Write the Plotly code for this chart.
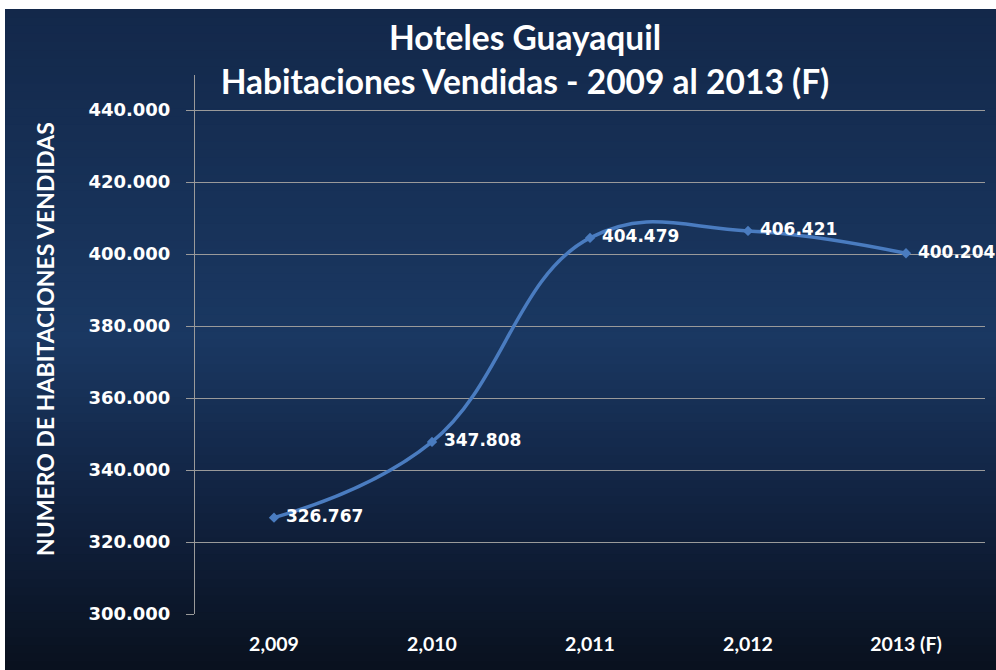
import plotly.graph_objects as go

categories = ["2,009", "2,010", "2,011", "2,012", "2013 (F)"]
habitaciones = [326767, 347808, 404479, 406421, 400204]
labels = ["326.767", "347.808", "404.479", "406.421", "400.204"]
y_ticks = [300000, 320000, 340000, 360000, 380000, 400000, 420000, 440000]
y_ticktext = ["300.000", "320.000", "340.000", "360.000", "380.000", "400.000", "420.000", "440.000"]

W, H = 996, 670
L, R, T, B = 195, 11, 75, 56
pw, ph = W - L - R, H - T - B

def fx(px):  # page px -> paper x
    return (px - L) / pw

def fy(py):  # page px -> paper y
    return (H - B - py) / ph

def hex2rgb(h):
    h = h.lstrip("#")
    return tuple(int(h[i:i + 2], 16) for i in (0, 2, 4))

stops = [(0.0, "#13284a"), (0.5, "#1a3862"), (0.75, "#112240"), (1.0, "#09111e")]

def grad(t):
    for (t0, c0), (t1, c1) in zip(stops[:-1], stops[1:]):
        if t0 <= t <= t1:
            f = (t - t0) / (t1 - t0)
            a, b = hex2rgb(c0), hex2rgb(c1)
            return "rgb(%d,%d,%d)" % tuple(round(a[i] + (b[i] - a[i]) * f) for i in range(3))
    return stops[-1][1]

shapes = []
top_px, bot_px = 9, H
n = 80
for i in range(n):
    y0 = top_px + (bot_px - top_px) * i / n
    y1 = min(top_px + (bot_px - top_px) * (i + 1) / n + 0.8, bot_px)
    shapes.append(dict(type="rect", xref="paper", yref="paper",
                       x0=fx(5), x1=fx(W),
                       y0=fy(y1), y1=fy(y0),
                       fillcolor=grad((i + 0.5) / n), line=dict(width=0), layer="below"))

fig = go.Figure()
fig.add_trace(go.Scatter(
    x=categories, y=habitaciones, mode="lines+markers+text",
    text=[" " + t for t in labels], textposition="middle right",
    textfont=dict(family="DejaVu Sans", size=17, color="white", weight="bold"),
    line=dict(color="#4a7cc0", width=3.5, shape="spline", smoothing=1.2),
    marker=dict(symbol="diamond", size=8, color="#4a7cc0"),
    cliponaxis=False, showlegend=False, hoverinfo="skip",
))

y_top = 300000 + ph / 72 * 20000

fig.update_layout(
    width=W, height=H,
    margin=dict(l=L, r=R, t=T, b=B),
    paper_bgcolor="white", plot_bgcolor="rgba(0,0,0,0)",
    shapes=shapes,
    title=dict(text="Hoteles Guayaquil<br>Habitaciones Vendidas - 2009 al 2013 (F)",
               x=525 / W, xref="container", xanchor="center",
               y=1 - 50 / H, yref="container", yanchor="middle",
               font=dict(family="Lato", size=33.5, color="white", weight="bold")),
    xaxis=dict(range=[-0.5, 4.5], showgrid=False, zeroline=False, showline=False,
               tickfont=dict(family="Lato", size=19.5, color="white", weight="bold"),
               ticks="", ticklabelstandoff=16),
    yaxis=dict(range=[300000, y_top], tickvals=y_ticks, ticktext=y_ticktext,
               showgrid=True, gridcolor="#9a9a9a", gridwidth=1, zeroline=False,
               showline=True, linecolor="#9a9a9a", linewidth=1,
               ticks="outside", ticklen=8, tickcolor="#9a9a9a",
               ticklabelstandoff=12,
               tickfont=dict(family="DejaVu Sans", size=18, color="white", weight="bold")),
    annotations=[dict(text="NUMERO DE HABITACIONES VENDIDAS", textangle=-90,
                      xref="paper", yref="paper",
                      x=fx(45), y=fy(339),
                      xanchor="center", yanchor="middle", showarrow=False,
                      font=dict(family="Lato", size=23, color="white", weight="bold"))],
)

fig.write_html("out.html", config={"displayModeBar": False},
               post_script="document.body.style.margin='0px';document.body.style.overflow='hidden';")
